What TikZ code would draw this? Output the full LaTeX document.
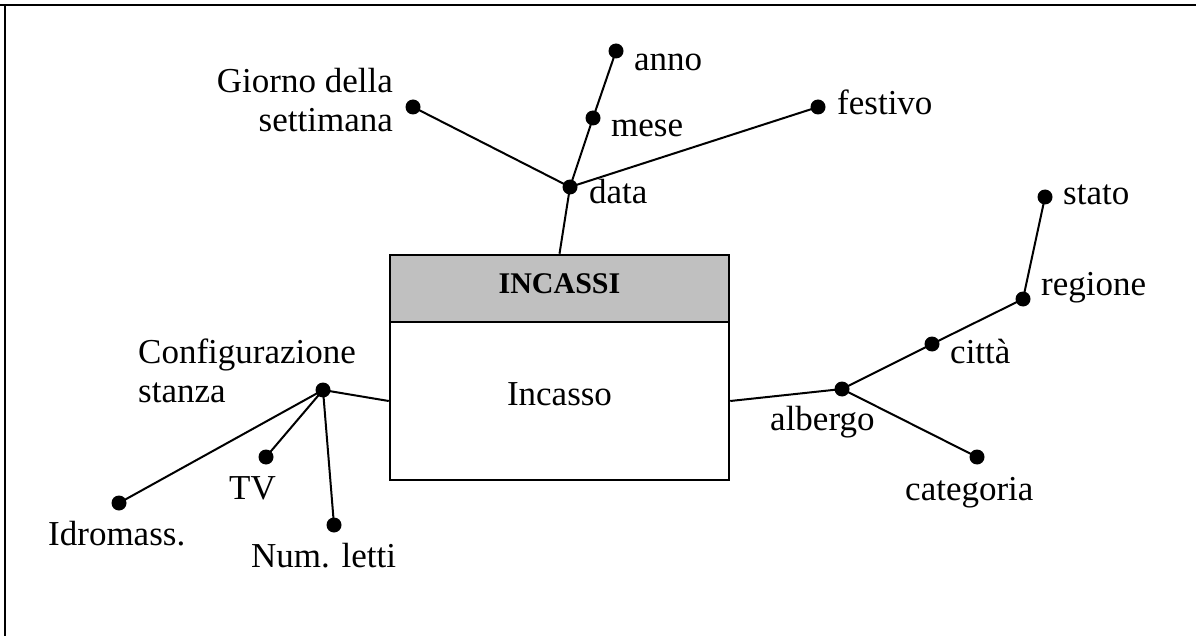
\documentclass[tikz,border=0pt]{standalone}
\usepackage{fontspec}
\setmainfont{Liberation Serif}
\begin{document}
\begin{tikzpicture}[x=1pt,y=-1pt,
  every node/.style={font=\fontsize{35}{39}\selectfont, inner sep=0pt},
  blob/.style={circle, fill=black, draw=none, minimum size=15pt, inner sep=0pt},
  conn/.style={line width=2pt},
  lbl/.style={anchor=base west},
  boxpart/.style={draw=black, line width=2.5pt, minimum width=339pt, inner sep=0pt}
]
\useasboundingbox (0,0) rectangle (1196,636);
% frame (top and left only)
\draw[line width=2.5pt] (0,5) -- (1196,5);
\draw[line width=2.5pt] (5,5) -- (5,636);

% fact box
\node[boxpart, fill={rgb,255:red,192;green,192;blue,192}, minimum height=67pt,
      font=\fontsize{30}{34}\selectfont\bfseries, text height=20pt, text depth=11pt]
  (title) at (559.5,288.5) {INCASSI};
\node[boxpart, fill=white, minimum height=158pt, text height=23pt, text depth=15pt]
  (body) at (559.5,401) {Incasso};

% dots
\node[blob] (anno) at (616,51) {};
\node[blob] (mese) at (593,118) {};
\node[blob] (data) at (570,187) {};
\node[blob] (giorno) at (413,107) {};
\node[blob] (festivo) at (818,107) {};
\node[blob] (stato) at (1045,197) {};
\node[blob] (regione) at (1023,299) {};
\node[blob] (citta) at (932,344) {};
\node[blob] (albergo) at (842,389) {};
\node[blob] (categoria) at (977,457) {};
\node[blob] (conf) at (323,390) {};
\node[blob] (tv) at (266,457) {};
\node[blob] (idro) at (119,503) {};
\node[blob] (letti) at (334,525) {};

% labels
\node[lbl] (lanno) at (634,71) {anno};
\node[lbl] (lmese) at (611,137) {mese};
\node[lbl] (ldata) at (589,204) {data};
\node[lbl] (lfestivo) at (837,115) {festivo};
\node[anchor=base east] (lgiorno) at (393,93)
  {\begin{tabular}[t]{@{}r@{}}Giorno della\\settimana\end{tabular}};
\node[lbl] (lstato) at (1063,205) {stato};
\node[lbl] (lregione) at (1041,295) {regione};
\node[lbl] (lcitta) at (950,363) {città};
\node[lbl] (lalbergo) at (770,430) {albergo};
\node[lbl] (lcategoria) at (905,500) {categoria};
\node[lbl] (lconf) at (138,363)
  {\begin{tabular}[t]{@{}l@{}}Configurazione\\stanza\end{tabular}};
\node[lbl] (ltv) at (229,499) {TV};
\node[lbl] (lidro) at (48,545) {Idromass.};
\node[lbl] (lletti) at (251,567) {Num. letti};

% connectors
\draw[conn] (anno.center) -- (mese.center) -- (data.center);
\draw[conn] (data.center) -- (title.north);
\draw[conn] (giorno.center) -- (data.center);
\draw[conn] (festivo.center) -- (data.center);
\draw[conn] (stato.center) -- (regione.center) -- (citta.center) -- (albergo.center);
\draw[conn] (albergo.center) -- (categoria.center);
\draw[conn] (albergo.center) -- (body.east);
\draw[conn] (conf.center) -- (body.west);
\draw[conn] (conf.center) -- (tv.center);
\draw[conn] (conf.center) -- (idro.center);
\draw[conn] (conf.center) -- (letti.center);
\end{tikzpicture}
\end{document}
